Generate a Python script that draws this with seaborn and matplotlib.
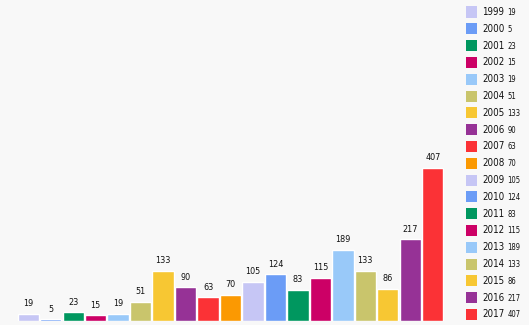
import matplotlib
matplotlib.use("Agg")
import matplotlib.pyplot as plt
import seaborn as sns
import pandas as pd
from matplotlib.patches import Rectangle

years = ["1999", "2000", "2001", "2002", "2003", "2004", "2005", "2006", "2007", "2008",
         "2009", "2010", "2011", "2012", "2013", "2014", "2015", "2016", "2017"]
counts = [19, 5, 23, 15, 19, 51, 133, 90, 63, 70,
          105, 124, 83, 115, 189, 133, 86, 217, 407]
base_colors = ["#c6c6f5", "#6b9cf6", "#00975f", "#cc0066", "#99c9f9",
               "#c9c56c", "#f7c733", "#963296", "#fb3236", "#fb9902"]
colors = [base_colors[i % len(base_colors)] for i in range(len(years))]

W, H = 529, 325
bg = "#f8f8f8"
sns.set_theme(style="white")
plt.rcParams["font.family"] = ["DejaVu Sans"]
plt.rcParams["font.stretch"] = "condensed"

fig = plt.figure(figsize=(W / 100, H / 100), dpi=100, facecolor=bg)
ax = fig.add_axes([17 / W, 4 / H, (444 - 17) / W, (H - 4) / H])
ax.set_facecolor(bg)

df = pd.DataFrame({"year": years, "count": counts})
sns.barplot(data=df, x="year", y="count", hue="year", palette=colors,
            width=0.95, legend=False, ax=ax, saturation=1)
for cont in ax.containers:
    ax.bar_label(cont, padding=4, fontsize=6.5, color="#111111",
                 fontstretch="condensed")

ax.set_xlim(-0.5, len(years) - 0.5)
ax.set_ylim(0, 854)
ax.set_axis_off()

# legend column on the right
for i, (y, c, v) in enumerate(zip(years, colors, counts)):
    cy = 12 + i * 16.8
    fig.patches.append(Rectangle((466 / W, 1 - (cy + 5.5) / H), 11 / W, 11 / H,
                                 transform=fig.transFigure, facecolor=c,
                                 edgecolor="none"))
    fig.text(482 / W, 1 - cy / H, y, fontsize=7.0, va="center", ha="left",
             color="#111111", fontstretch="condensed")
    fig.text(507.5 / W, 1 - (cy + 0.5) / H, str(v), fontsize=5.5, va="center",
             ha="left", color="#111111", fontstretch="condensed")

fig.savefig("out.png", dpi=100, facecolor=bg)
